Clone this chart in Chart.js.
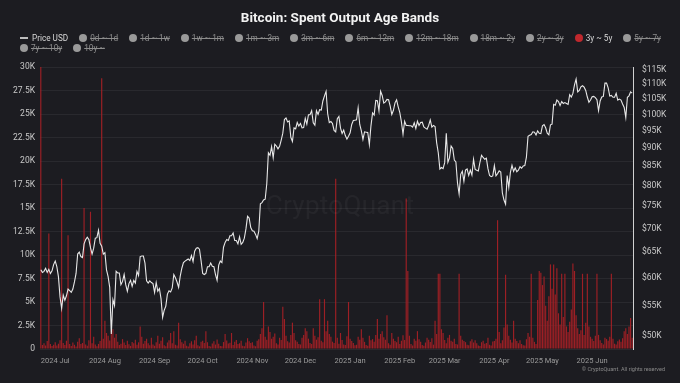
<!DOCTYPE html>
<html>
<head>
<meta charset="utf-8">
<script src="https://cdn.jsdelivr.net/npm/chart.js@4.4.1/dist/chart.umd.min.js"></script>
<style>
  html, body { margin: 0; padding: 0; background: #1c1c21; }
  body { width: 680px; height: 383px; position: relative; overflow: hidden; font-family: Roboto, "Noto Sans", sans-serif; }
  #chart { position: absolute; left: 0; top: 0; }
  .title { position: absolute; top: 9px; left: 0; width: 680px; text-align: center; color: #f2f2f2; font-weight: 700; font-size: 13.5px; }
  #legend { position: absolute; left: 20px; top: 33px; width: 652px; display: flex; flex-wrap: wrap; font-size: 8.2px; line-height: 10px; color: #d6d6d6; }
  .item { display: flex; align-items: center; margin-right: 11px; white-space: nowrap; }
  .dot { width: 8px; height: 8px; border-radius: 50%; margin-right: 3px; background: #9a9a9a; }
  .line { width: 8px; height: 1.5px; background: #bdbdbd; margin-right: 4px; }
  .off { color: #8d8d8d; text-decoration: line-through; }
  .watermark { position: absolute; left: 0; width: 680px; top: 190px; text-align: center; font-size: 26px; color: rgba(255,255,255,0.045); letter-spacing: 0.3px; }
  .copy { position: absolute; right: 15px; top: 366px; font-size: 5.5px; color: #8a8a8a; }
</style>
</head>
<body>
<canvas id="chart" width="680" height="383"></canvas>
<div class="title">Bitcoin: Spent Output Age Bands</div>
<div id="legend"></div>
<div class="watermark">CryptoQuant</div>
<div class="copy">© CryptoQuant. All rights reserved</div>
<script>
// data: daily, from 2024-06-22 to 2025-06-26
const firstDay = "2024-06-22";

// BTC price (USD, thousands)
const priceUsdK = [
  61.5, 61.0, 61.2, 61.8, 61.0, 61.6, 60.8, 61.3, 62.5,
  63.2, 62.1, 60.2, 56.5, 54.5, 56.8, 55.9, 56.7, 57.9, 57.6, 57.3, 57.9, 59.2, 60.8, 64.6, 65.0, 64.1, 63.9, 66.7, 67.6, 68.1, 67.6, 65.9, 64.6, 65.8, 67.9, 68.0, 69.6, 66.8, 66.2, 64.6,
  64.9, 61.5, 60.2, 58.2, 50.3, 56.0, 55.0, 61.2, 60.9, 60.9, 58.7, 59.3, 60.6, 58.7, 57.5, 58.9, 59.5, 58.4, 59.5, 59.0, 61.2, 60.4, 64.1, 64.2, 64.2, 62.8, 59.4, 59.0, 59.4, 59.1, 58.9,
  57.3, 59.1, 57.5, 58.0, 56.2, 53.0, 54.2, 54.9, 57.0, 57.6, 57.4, 58.1, 60.6, 60.0, 59.2, 58.2, 60.3, 61.8, 62.9, 63.2, 63.4, 63.6, 63.3, 64.3, 63.1, 65.2, 65.8, 65.9, 65.6, 63.3,
  60.8, 60.6, 60.8, 62.1, 62.1, 62.8, 62.2, 62.1, 60.6, 59.5, 62.4, 63.2, 62.9, 66.0, 67.0, 67.6, 67.4, 68.4, 68.4, 69.0, 67.4, 67.4, 66.7, 68.2, 66.6, 67.0, 67.9, 69.9, 72.7, 72.3, 70.2,
  69.5, 69.4, 68.7, 67.8, 69.4, 75.6, 75.9, 76.5, 76.7, 80.5, 88.7, 88.0, 90.4, 87.3, 91.1, 90.6, 89.8, 90.5, 92.3, 94.3, 98.4, 98.9, 97.7, 98.0, 93.1, 91.9, 95.9, 95.6, 97.5, 96.4,
  97.2, 95.9, 96.0, 98.8, 97.0, 99.9, 99.9, 101.2, 97.4, 96.7, 101.2, 100.0, 101.5, 101.4, 104.3, 106.0, 107.5, 100.2, 97.5, 97.8, 97.2, 95.1, 94.7, 98.7, 99.4, 95.8, 94.2, 95.2, 93.6, 92.6, 93.4,
  94.4, 96.9, 98.1, 98.2, 98.3, 102.1, 96.9, 95.0, 92.5, 94.7, 94.6, 94.5, 91.0, 96.5, 100.5, 99.8, 104.5, 104.4, 101.1, 107.5, 106.1, 103.6, 104.0, 104.8, 104.7, 102.6, 100.0, 101.3, 103.7, 104.7, 102.4,
  100.6, 97.7, 94.0, 97.9, 96.6, 96.6, 96.5, 96.5, 96.1, 97.4, 95.7, 97.9, 96.6, 97.5, 97.6, 96.2, 95.8, 95.5, 96.6, 98.3, 96.1, 96.6, 96.3, 91.5, 88.7, 84.3, 84.7, 84.4,
  86.0, 94.3, 86.1, 87.3, 90.6, 89.9, 86.7, 86.2, 80.7, 78.0, 82.9, 83.7, 81.1, 84.0, 84.3, 82.6, 84.0, 82.7, 86.9, 84.2, 84.0, 83.8, 86.1, 88.0, 87.4, 86.9, 87.2, 84.4, 82.6, 82.3, 82.5,
  85.2, 82.5, 83.1, 83.8, 83.5, 78.2, 76.5, 75.5, 82.6, 79.6, 83.4, 85.3, 83.7, 84.6, 83.6, 84.0, 84.9, 84.5, 85.1, 85.2, 87.5, 93.4, 93.7, 93.9, 94.7, 94.6, 93.8, 95.0, 94.3, 94.2,
  96.5, 96.9, 95.9, 94.3, 93.8, 96.8, 97.0, 103.2, 102.9, 104.6, 104.1, 102.8, 104.1, 103.5, 103.8, 103.5, 103.2, 106.4, 105.6, 106.8, 109.7, 111.7, 107.3, 107.8, 109.0, 109.4, 108.9, 107.8, 105.6, 103.9, 104.6,
  105.7, 105.8, 105.4, 104.7, 101.2, 104.3, 105.6, 105.8, 110.3, 110.3, 108.7, 105.9, 106.1, 105.5, 105.5, 106.8, 104.6, 104.9, 104.6, 103.3, 102.2, 99.0, 105.5, 106.0, 107.3, 106.9
];

// spent outputs aged 3y ~ 5y (BTC)
const spent3y5y = [
  30000, 420, 610, 380, 850, 12300, 540, 310, 460,
  720, 380, 560, 940, 18100, 650, 420, 880, 12100, 530, 310, 690, 450, 260, 780, 1150, 520, 640, 15000, 480, 350, 920, 14600, 610, 1300, 470, 280, 540, 860, 28800, 1100,
  3000, 1700, 1400, 900, 1900, 2100, 1200, 1600, 780, 430, 560, 1050, 690, 420, 880, 510, 330, 740, 620, 980, 450, 710, 2400, 1300, 560, 840, 1100, 620, 390, 1200, 480,
  350, 720, 1400, 560, 890, 1250, 410, 300, 680, 940, 1700, 620, 1900, 450, 380, 2800, 1050, 730, 560, 890, 340, 270, 610, 820, 470, 930, 1400, 390, 280, 760,
  880, 640, 1900, 720, 310, 260, 590, 830, 470, 1020, 560, 330, 290, 740, 1600, 910, 580, 660, 1700, 420, 780, 950, 530, 610, 870, 340, 300, 690, 1150, 820, 640,
  730, 360, 290, 880, 1050, 1600, 2200, 5000, 1300, 980, 2400, 1800, 1100, 1300, 1650, 620, 480, 1200, 970, 4500, 3200, 1400, 820, 690, 1500, 2800, 1700, 930, 760, 540,
  480, 1200, 1500, 2200, 1900, 1100, 650, 540, 2200, 1400, 990, 1250, 5300, 880, 720, 5300, 1900, 3000, 1600, 1300, 780, 640, 18100, 1200, 560, 1700, 950, 480, 420, 1350, 5000,
  1100, 850, 640, 390, 450, 1300, 980, 2100, 1200, 760, 420, 350, 1400, 920, 1050, 780, 1500, 3200, 1100, 1600, 1900, 1250, 980, 3600, 620, 450, 1700, 1100, 860, 720, 1300,
  540, 880, 1450, 960, 16000, 8300, 1400, 520, 380, 1100, 870, 1900, 1050, 760, 430, 350, 690, 1200, 980, 740, 1150, 460, 3000, 1600, 8000, 8000, 2100, 1700,
  950, 620, 1200, 1500, 880, 760, 1100, 540, 480, 8000, 1400, 980, 850, 730, 460, 390, 820, 1050, 690, 940, 610, 380, 330, 720, 880, 560, 640, 1200, 450, 370, 790,
  860, 1100, 13700, 1800, 620, 940, 2300, 7900, 2600, 1400, 980, 700, 3000, 1100, 850, 620, 930, 540, 410, 380, 1050, 1700, 1300, 8000, 1200, 760, 540, 5200, 8300, 8100,
  6800, 7700, 4600, 3000, 5600, 9000, 6400, 9000, 5800, 8600, 3800, 2600, 8000, 3400, 8000, 2400, 1800, 2900, 4200, 9100, 8300, 3600, 2200, 1600, 2000, 8000, 1500, 2800, 8000, 2400, 1300,
  1100, 860, 1400, 8000, 1500, 920, 640, 480, 1200, 1050, 870, 1300, 8000, 1100, 560, 490, 830, 1000, 760, 1150, 1900, 2200, 1600, 2400, 3300, 1200
];

const monthTickLabels = ["2024 Jul", "2024 Aug", "2024 Sep", "2024 Oct", "2024 Nov", "2024 Dec",
  "2025 Jan", "2025 Feb", "2025 Mar", "2025 Apr", "2025 May", "2025 Jun"];
const priceTicksK = [50, 55, 60, 65, 70, 75, 80, 85, 90, 95, 100, 105, 110, 115];

const bandLabels = ["0d ~ 1d", "1d ~ 1w", "1w ~ 1m", "1m ~ 3m", "3m ~ 6m", "6m ~ 12m", "12m ~ 18m",
  "18m ~ 2y", "2y ~ 3y", "3y ~ 5y", "5y ~ 7y", "7y ~ 10y", "10y ~"];
const activeBand = "3y ~ 5y";

// day labels
const start = new Date(firstDay + "T00:00:00Z");
const days = priceUsdK.map((p, i) => new Date(start.getTime() + i * 86400000));
const labels = days.map(d => d.toISOString().slice(0, 10));
const monthIndex = {};
let k = 0;
days.forEach((d, i) => {
  if (d.getUTCDate() === 1) { monthIndex[i] = monthTickLabels[k]; k++; }
});

// legend
const legend = document.getElementById("legend");
let html = '<div class="item"><span class="line"></span><span>Price USD</span></div>';
bandLabels.forEach(b => {
  if (b === activeBand) {
    html += '<div class="item"><span class="dot" style="background:#c0282d"></span><span>' + b + '</span></div>';
  } else {
    html += '<div class="item"><span class="dot"></span><span class="off">' + b + '</span></div>';
  }
});
legend.innerHTML = html;

new Chart(document.getElementById("chart"), {
  data: {
    labels: labels,
    datasets: [
      {
        type: "line",
        label: "Price USD",
        data: priceUsdK,
        yAxisID: "yPrice",
        borderColor: "#e8e8e8",
        borderWidth: 1.1,
        pointRadius: 0,
        tension: 0,
        order: 0
      },
      {
        type: "bar",
        label: activeBand,
        data: spent3y5y,
        yAxisID: "y",
        backgroundColor: "rgba(172, 32, 38, 0.9)",
        borderWidth: 0,
        barPercentage: 0.9,
        categoryPercentage: 0.8,
        order: 1
      }
    ]
  },
  options: {
    responsive: false,
    animation: false,
    layout: { padding: { top: 67, left: 0, right: 0, bottom: 0 } },
    plugins: { legend: { display: false }, title: { display: false }, tooltip: { enabled: false } },
    scales: {
      x: {
        offset: true,
        grid: { display: false },
        border: { display: false },
        ticks: {
          autoSkip: false,
          maxRotation: 0,
          padding: 0,
          color: "#9a9a9a",
          font: { family: "Roboto", size: 7.5 },
          callback: v => monthIndex[v] !== undefined ? monthIndex[v] : null
        },
        afterFit: s => { s.height = 34; }
      },
      y: {
        position: "left",
        min: 0,
        max: 30000,
        ticks: {
          stepSize: 2500,
          padding: 5,
          color: "#c8c8c8",
          font: { family: "Roboto", size: 8.5 },
          callback: v => v === 0 ? "0" : (v / 1000) + "K"
        },
        grid: { color: "rgba(255,255,255,0.06)", drawTicks: false },
        border: { display: false },
        afterFit: s => { s.width = 40; }
      },
      yPrice: {
        type: "logarithmic",
        position: "right",
        min: 48,
        max: 116,
        afterBuildTicks: s => { s.ticks = priceTicksK.map(v => ({ value: v })); },
        ticks: {
          padding: 9,
          color: "#c8c8c8",
          font: { family: "Roboto", size: 8.5 },
          callback: v => "$" + v + "K"
        },
        grid: { display: false, drawTicks: false },
        border: { display: true, color: "#d0d0d0", width: 1 },
        afterFit: s => { s.width = 47; }
      }
    }
  }
});
</script>
</body>
</html>
